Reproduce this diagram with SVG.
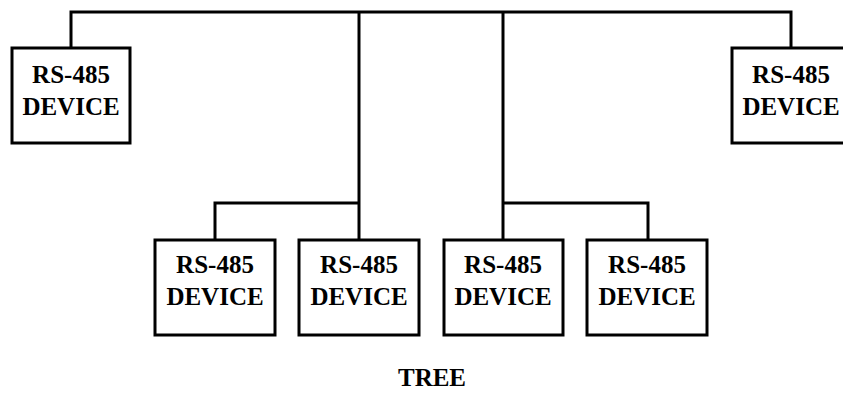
<svg xmlns="http://www.w3.org/2000/svg" width="843" height="393" viewBox="0 0 843 393">
<style>
.box{fill:#fff;stroke:#000;stroke-width:3}
.ln{fill:none;stroke:#000;stroke-width:3}
text{font-family:"Liberation Serif","Times New Roman",serif;font-weight:bold;font-size:25px;text-anchor:middle;fill:#000}
</style>
<rect width="843" height="393" fill="#fff"/>
<g id="connectors">
<polyline class="ln" points="71,48 71,12 791,12 791,48"/>
<line class="ln" x1="359" y1="12" x2="359" y2="240"/>
<line class="ln" x1="503" y1="12" x2="503" y2="240"/>
<polyline class="ln" points="215,240 215,203 359,203"/>
<polyline class="ln" points="503,203 648,203 648,240"/>
</g>
<g id="dev1"><rect class="box" x="12" y="48" width="118" height="95"/><text x="71" y="83">RS-485</text><text x="71" y="115">DEVICE</text></g>
<g id="dev2"><rect class="box" x="732" y="48" width="118" height="95"/><text x="791" y="83">RS-485</text><text x="791" y="115">DEVICE</text></g>
<g id="dev3"><rect class="box" x="155" y="240" width="120" height="95"/><text x="215" y="273">RS-485</text><text x="215" y="305">DEVICE</text></g>
<g id="dev4"><rect class="box" x="299" y="240" width="120" height="95"/><text x="359" y="273">RS-485</text><text x="359" y="305">DEVICE</text></g>
<g id="dev5"><rect class="box" x="444" y="240" width="119" height="95"/><text x="503" y="273">RS-485</text><text x="503" y="305">DEVICE</text></g>
<g id="dev6"><rect class="box" x="587" y="240" width="120" height="95"/><text x="647" y="273">RS-485</text><text x="647" y="305">DEVICE</text></g>
<text x="432" y="386">TREE</text>
</svg>
